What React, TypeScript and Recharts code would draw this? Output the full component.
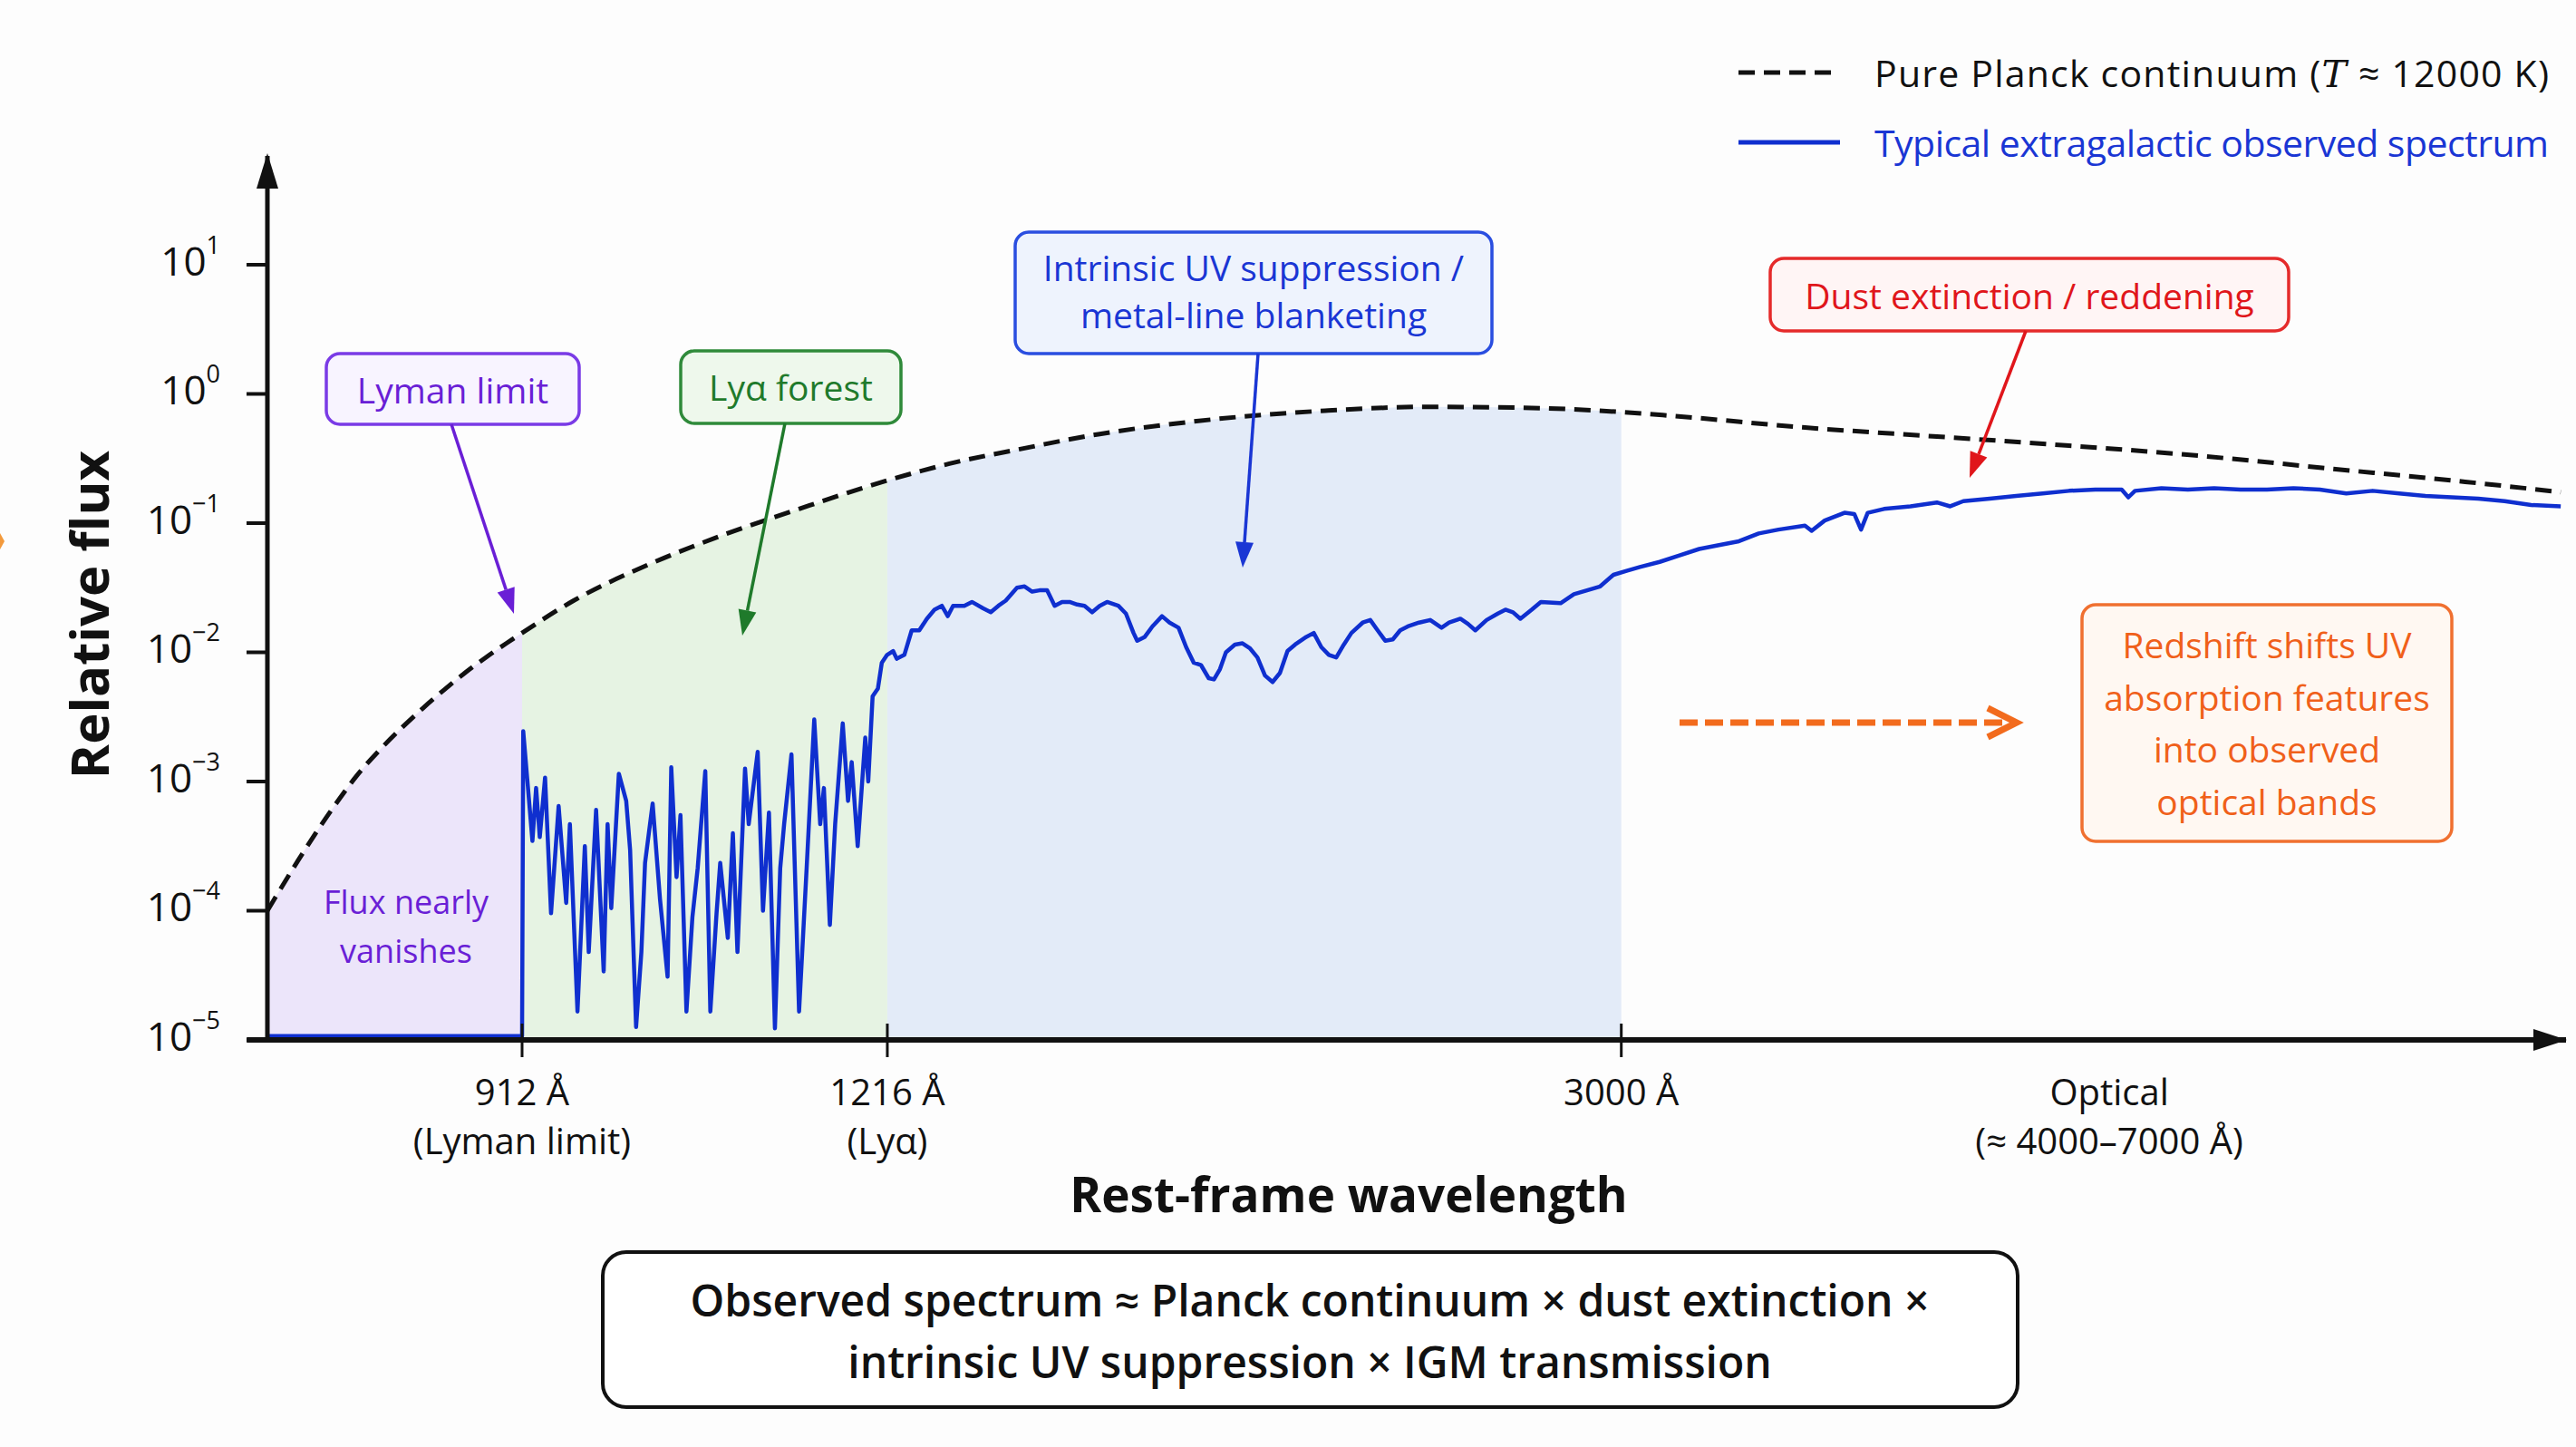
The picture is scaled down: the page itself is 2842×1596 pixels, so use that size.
import { ComposedChart, Line, Area, XAxis, YAxis, ReferenceLine, ReferenceDot } from 'recharts'

const W = 2842
const H = 1596
const FONT = "'Open Sans', 'Noto Sans', sans-serif"
const INK = '#111111'

// x: schematic position along the rest-frame wavelength axis (0 = flux axis, 1000 = arrow tip)
// y: log10 of the relative flux
const xTickPos = [110.8, 269.7, 589, 801.3]
const xTickMain = ['912 Å', '1216 Å', '3000 Å', 'Optical']
const xTickSub = ['(Lyman limit)', '(Lyα)', '', '(≈ 4000–7000 Å)']
const xTickMarked = [true, true, true, false]
const yDecades = [-5, -4, -3, -2, -1, 0, 1]
const Y_TOP = 1.842

const planckX = [0, 4.4, 13.4, 22.5, 31.5, 39.1, 49.7, 58.7, 67.8, 76.9, 85.9, 95, 104, 110.8, 133.2, 165.9, 198.6, 231.3, 269.7, 296.7, 329.4, 362.1, 394.8, 427.5, 460.2, 505, 554, 589, 611.4, 668.9, 726.3, 783.8, 841.2, 898.6, 956.1, 997.7]
const planckLog = [-4.0, -3.87, -3.61, -3.36, -3.13, -2.95, -2.74, -2.58, -2.43, -2.29, -2.16, -2.04, -1.93, -1.85, -1.6, -1.32, -1.09, -0.89, -0.67, -0.54, -0.42, -0.31, -0.23, -0.17, -0.13, -0.1, -0.11, -0.14, -0.17, -0.26, -0.33, -0.4, -0.48, -0.58, -0.68, -0.76]

// below the Lyman limit
const floorX = [0, 110.8]
const floorLog = [-4.97, -4.97]

// Lyα forest
const forestX = [111.3, 115.3, 116.9, 118.5, 120.8, 123.4, 126.7, 130.0, 131.6, 134.9, 138.1, 139.8, 143.0, 146.3, 148.0, 149.6, 152.9, 156.1, 157.8, 160.4, 162.7, 164.3, 167.6, 170.8, 174.1, 175.7, 178.0, 179.7, 182.3, 184.9, 187.2, 190.5, 192.7, 195.4, 197.0, 200.3, 202.5, 204.5, 207.8, 209.4, 213.3, 215.6, 218.2, 220.8, 223.1, 224.8, 228.0, 231.3, 234.6, 237.9, 240.5, 242.1, 244.7, 247.0, 250.3, 252.6, 254.2, 256.8, 260.1, 261.4, 263.3, 265.6, 267.3, 269.6]
const forestLog = [-2.61, -3.46, -3.05, -3.43, -2.97, -4.02, -3.19, -3.94, -3.33, -4.78, -3.5, -4.32, -3.22, -4.47, -3.33, -3.98, -2.94, -3.15, -3.53, -4.9, -4.32, -3.63, -3.17, -3.91, -4.51, -2.89, -3.74, -3.26, -4.78, -4.05, -3.67, -2.92, -4.78, -4.02, -3.63, -4.21, -3.4, -4.32, -2.9, -3.33, -2.77, -4.0, -3.24, -4.91, -3.67, -3.33, -2.79, -4.78, -3.67, -2.52, -3.33, -3.05, -4.11, -3.33, -2.55, -3.15, -2.85, -3.5, -2.66, -3.0, -2.34, -2.28, -2.08, -2.02]

// UV continuum with metal-line blanketing
const uvX = [272.2, 273.8, 277.1, 280.3, 283.6, 286.9, 290.2, 293.4, 296.0, 298.3, 303.2, 306.5, 311.4, 314.7, 318.0, 321.2, 326.1, 329.4, 332.7, 335.9, 339.2, 342.5, 345.7, 349.0, 352.3, 355.5, 358.8, 362.1, 365.3, 370.2, 373.5, 376.8, 378.4, 381.7, 385.0, 389.2, 392.5, 396.4, 399.7, 403.0, 406.2, 409.5, 411.8, 414.4, 417.0, 420.9, 424.2, 427.5, 430.7, 434.0, 437.3, 440.5, 443.8, 447.1, 452.0, 455.2, 458.5, 461.8, 465.0, 468.3, 471.6, 476.5, 479.8, 483.0, 486.3, 489.6, 492.8, 496.1, 501.0, 505.9, 510.8, 514.1, 519.0, 522.3, 525.5, 530.4, 535.3, 538.6, 541.9, 545.1, 550.0]
const uvLog = [-1.99, -2.05, -2.02, -1.83, -1.83, -1.74, -1.67, -1.64, -1.72, -1.64, -1.64, -1.61, -1.66, -1.69, -1.64, -1.6, -1.5, -1.49, -1.53, -1.52, -1.52, -1.64, -1.61, -1.61, -1.63, -1.64, -1.69, -1.64, -1.61, -1.64, -1.7, -1.85, -1.91, -1.88, -1.8, -1.72, -1.77, -1.81, -1.96, -2.08, -2.1, -2.2, -2.21, -2.13, -2.0, -1.94, -1.93, -1.97, -2.04, -2.18, -2.23, -2.16, -1.99, -1.94, -1.88, -1.85, -1.96, -2.02, -2.04, -1.94, -1.85, -1.77, -1.75, -1.83, -1.91, -1.9, -1.83, -1.8, -1.77, -1.75, -1.81, -1.77, -1.74, -1.78, -1.83, -1.75, -1.7, -1.67, -1.69, -1.74, -1.67]

// near-UV to optical, reddened by dust
const optX = [554.0, 562.6, 568.4, 574.1, 579.8, 585.6, 591.3, 597.1, 605.7, 614.3, 622.9, 631.5, 640.2, 648.8, 657.4, 668.9, 671.8, 677.5, 686.1, 690.4, 693.3, 696.2, 703.3, 714.8, 726.3, 732.1, 737.8, 749.3, 760.8, 772.3, 783.8, 795.2, 806.7, 809.6, 812.5, 824.0, 835.5, 846.9, 858.4, 869.9, 881.4, 892.9, 904.4, 915.9, 927.4, 938.8, 950.3, 961.8, 973.3, 984.8, 997.7]
const optLog = [-1.61, -1.62, -1.55, -1.52, -1.49, -1.4, -1.37, -1.34, -1.3, -1.25, -1.2, -1.17, -1.14, -1.08, -1.05, -1.02, -1.06, -0.98, -0.92, -0.93, -1.05, -0.92, -0.89, -0.87, -0.84, -0.87, -0.83, -0.81, -0.79, -0.77, -0.75, -0.74, -0.74, -0.8, -0.75, -0.73, -0.74, -0.73, -0.74, -0.74, -0.73, -0.74, -0.77, -0.75, -0.77, -0.79, -0.8, -0.81, -0.83, -0.86, -0.87]

const zip = (xs: number[], ys: number[]) => xs.map((x, i) => ({ x, y: ys[i] }))
const planck = zip(planckX, planckLog)
const spectrum = [...zip(floorX, floorLog), ...zip(forestX, forestLog), ...zip(uvX, uvLog), ...zip(optX, optLog)]
const band = (a: number, b: number) => planck.filter((p) => p.x >= a && p.x <= b)

function XTick(props: any) {
  const { x, y, payload } = props
  const i = xTickPos.indexOf(payload.value)
  return (
    <g>
      {xTickMarked[i] && <line x1={x} x2={x} y1={y - 18} y2={y + 19} stroke={INK} strokeWidth={3} />}
      <text x={x} y={y + 72} textAnchor="middle" fontFamily={FONT} fontSize={40} fill={INK}>{xTickMain[i]}</text>
      <text x={x} y={y + 126} textAnchor="middle" fontFamily={FONT} fontSize={40} fill={INK}>{xTickSub[i]}</text>
    </g>
  )
}

function YTick(props: any) {
  const { x, y, payload } = props
  const e = payload.value as number
  return (
    <text x={x} y={y + 12} textAnchor="end" fontFamily={FONT} fontSize={44} fill={INK}>
      10<tspan dy={-24} fontSize={27}>{e < 0 ? `\u2212${-e}` : `${e}`}</tspan>
    </text>
  )
}

const arrowUp = (p: any) => (
  <polygon points={`${p.cx},${p.cy - 3} ${p.cx - 12},${p.cy + 36} ${p.cx + 12},${p.cy + 36}`} fill={INK} />
)
const arrowRight = (p: any) => (
  <polygon points={`${p.cx + 1},${p.cy} ${p.cx - 36},${p.cy - 12} ${p.cx - 36},${p.cy + 12}`} fill={INK} />
)

function Arrow({ x1, y1, x2, y2, color }: { x1: number; y1: number; x2: number; y2: number; color: string }) {
  const len = Math.hypot(x2 - x1, y2 - y1)
  const ux = (x2 - x1) / len
  const uy = (y2 - y1) / len
  const bx = x2 - ux * 28
  const by = y2 - uy * 28
  const px = -uy * 10
  const py = ux * 10
  return (
    <g>
      <line x1={x1} y1={y1} x2={bx} y2={by} stroke={color} strokeWidth={3.5} />
      <polygon points={`${x2},${y2} ${bx + px},${by + py} ${bx - px},${by - py}`} fill={color} />
    </g>
  )
}

function Box({ x, y, w, h, lines, base, gap, stroke, fill, color }: {
  x: number; y: number; w: number; h: number; lines: string[]; base: number; gap: number
  stroke: string; fill: string; color: string
}) {
  return (
    <g>
      <rect x={x} y={y} width={w} height={h} rx={15} fill={fill} stroke={stroke} strokeWidth={3.5} />
      {lines.map((t, i) => (
        <text key={i} x={x + w / 2} y={base + i * gap} textAnchor="middle" fontFamily={FONT} fontSize={39} fill={color}>{t}</text>
      ))}
    </g>
  )
}

export default function App() {
  return (
    <div style={{ position: 'absolute', left: 0, top: 0, width: W, height: H, background: '#fdfdfd', overflow: 'hidden' }}>
      <ComposedChart width={W} height={H} margin={{ top: 172, right: 11, bottom: 389, left: 0 }}>
        <XAxis
          type="number"
          dataKey="x"
          domain={[0, 1000]}
          ticks={xTickPos}
          interval={0}
          allowDataOverflow
          axisLine={false}
          tickLine={false}
          tickSize={0}
          tickMargin={0}
          height={60}
          tick={XTick}
        />
        <YAxis
          type="number"
          dataKey="y"
          domain={[-5, Y_TOP]}
          ticks={yDecades}
          interval={0}
          allowDataOverflow
          axisLine={false}
          tickLine={{ stroke: INK, strokeWidth: 4 }}
          tickSize={23}
          tickMargin={29}
          width={295}
          tick={YTick}
        />
        <Area data={band(0, 110.8)} dataKey="y" type="monotone" baseValue={-5} fill="#ece5fa" fillOpacity={1} stroke="none" isAnimationActive={false} />
        <Area data={band(110.8, 269.7)} dataKey="y" type="monotone" baseValue={-5} fill="#e6f3e3" fillOpacity={1} stroke="none" isAnimationActive={false} />
        <Area data={band(269.7, 589)} dataKey="y" type="monotone" baseValue={-5} fill="#e3ebf8" fillOpacity={1} stroke="none" isAnimationActive={false} />
        <Line data={planck} dataKey="y" type="monotone" stroke={INK} strokeWidth={5} strokeDasharray="18 10" dot={false} isAnimationActive={false} />
        <Line data={spectrum} dataKey="y" type="linear" stroke="#0f2fcf" strokeWidth={4.5} strokeLinejoin="round" dot={false} isAnimationActive={false} />
        <ReferenceLine segment={[{ x: -9, y: -5 }, { x: 1000, y: -5 }]} stroke={INK} strokeWidth={6} ifOverflow="visible" />
        <ReferenceLine segment={[{ x: 0, y: -5 }, { x: 0, y: Y_TOP }]} stroke={INK} strokeWidth={5} ifOverflow="visible" />
        <ReferenceDot x={1000} y={-5} shape={arrowRight} ifOverflow="visible" />
        <ReferenceDot x={0} y={Y_TOP} shape={arrowUp} ifOverflow="visible" />
      </ComposedChart>

      <svg width={W} height={H} style={{ position: 'absolute', left: 0, top: 0, pointerEvents: 'none' }}>
        {/* legend */}
        <line x1={1918} y1={80} x2={2030} y2={80} stroke={INK} strokeWidth={5} strokeDasharray="18 10" />
        <text x={2068} y={96} fontFamily={FONT} fontSize={41} fill={INK} textLength={744}>
          Pure Planck continuum (<tspan fontFamily="'DejaVu Serif', serif" fontStyle="italic">T</tspan> ≈ 12000 K)
        </text>
        <line x1={1918} y1={157} x2={2030} y2={157} stroke="#0f2fcf" strokeWidth={5} />
        <text x={2068} y={173} fontFamily={FONT} fontSize={41} fill="#1a36d4" textLength={744}>Typical extragalactic observed spectrum</text>

        {/* axis titles */}
        <text transform="translate(120,678) rotate(-90)" textAnchor="middle" fontFamily={FONT} fontWeight={700} fontSize={58} fill={INK}>Relative flux</text>
        <text x={1488} y={1337} textAnchor="middle" fontFamily={FONT} fontWeight={700} fontSize={53} fill={INK}>Rest-frame wavelength</text>

        {/* clipped arrow tip at the left edge */}
        <polygon points="0,588 5,597 0,606" fill="#f39a3c" />

        {/* region notes */}
        <text x={448} y={1008} textAnchor="middle" fontFamily={FONT} fontSize={36} fill="#6a1fd6">Flux nearly</text>
        <text x={448} y={1062} textAnchor="middle" fontFamily={FONT} fontSize={36} fill="#6a1fd6">vanishes</text>

        <Box x={360} y={390} w={279} h={78} lines={['Lyman limit']} base={445} gap={0} stroke="#7a3be6" fill="#f8f4ff" color="#6a1fd6" />
        <Arrow x1={498} y1={468} x2={567} y2={677} color="#6a1fd6" />

        <Box x={751} y={387} w={243} h={80} lines={['Lyα forest']} base={442} gap={0} stroke="#2f8a3a" fill="#eef8ec" color="#1f7a2b" />
        <Arrow x1={866} y1={467} x2={819} y2={701} color="#1f7a2b" />

        <Box x={1120} y={256} w={526} h={134} lines={['Intrinsic UV suppression /', 'metal-line blanketing']} base={310} gap={52} stroke="#2a4ee0" fill="#eef3fd" color="#1a36d4" />
        <Arrow x1={1388} y1={390} x2={1371} y2={626} color="#1a36d4" />

        <Box x={1953} y={285} w={572} h={80} lines={['Dust extinction / reddening']} base={341} gap={0} stroke="#e52a2a" fill="#fff5f5" color="#e0161b" />
        <Arrow x1={2235} y1={365} x2={2173} y2={527} color="#e0161b" />

        <line x1={1853} y1={797} x2={2218} y2={797} stroke="#f26b1d" strokeWidth={7} strokeDasharray="20 8" />
        <polyline points="2193,781 2225,797 2193,813" fill="none" stroke="#f26b1d" strokeWidth={7} strokeLinejoin="miter" />
        <Box x={2297} y={667} w={408} h={261} lines={['Redshift shifts UV', 'absorption features', 'into observed', 'optical bands']} base={726} gap={57.5} stroke="#f07030" fill="#fff8f2" color="#f0601a" />

        {/* formula */}
        <rect x={665} y={1381} width={1561} height={171} rx={26} fill="#ffffff" stroke={INK} strokeWidth={4} />
        <text x={1445} y={1452} textAnchor="middle" fontFamily={FONT} fontWeight={600} fontSize={48} fill={INK}>Observed spectrum ≈ Planck continuum × dust extinction ×</text>
        <text x={1445} y={1520} textAnchor="middle" fontFamily={FONT} fontWeight={600} fontSize={48} fill={INK}>intrinsic UV suppression × IGM transmission</text>
      </svg>
    </div>
  )
}
